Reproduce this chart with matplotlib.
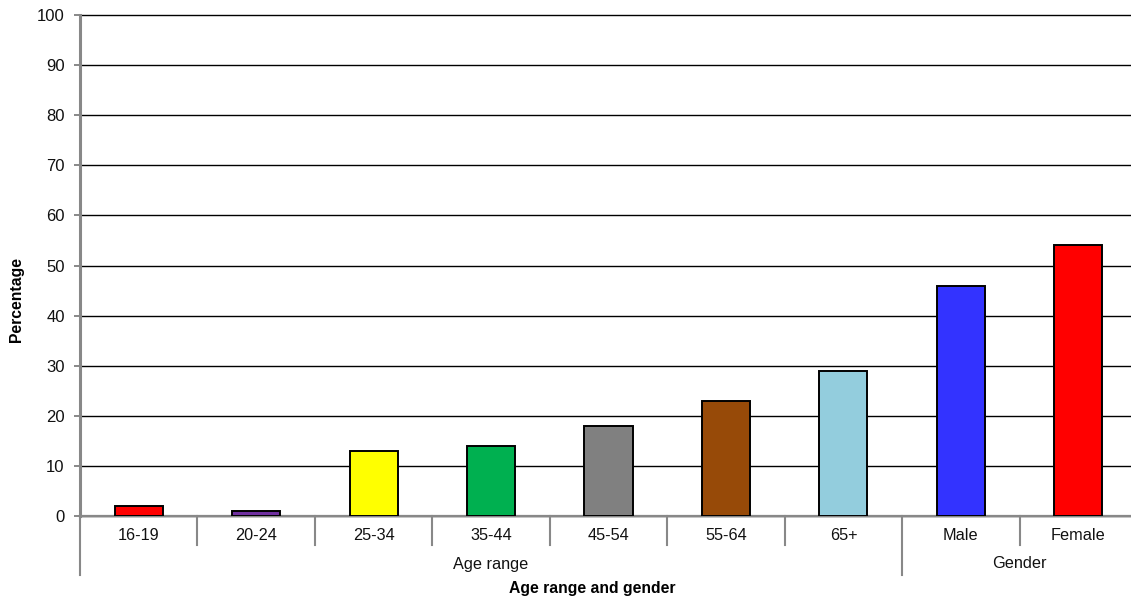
import numpy as np
import matplotlib.pyplot as plt
import matplotlib.transforms as mtransforms

plt.rcParams['font.family'] = ['Liberation Sans', 'DejaVu Sans']

# data
categories = ["16-19", "20-24", "25-34", "35-44", "45-54", "55-64", "65+", "Male", "Female"]
percentages = [2, 1, 13, 14, 18, 23, 29, 46, 54]
bar_colors = ["#FF0000", "#7030A0", "#FFFF00", "#00B050", "#808080",
              "#974A08", "#93CDDD", "#3333FF", "#FF0000"]
group_labels = ["Age range", "Gender"]
group_sizes = [7, 2]

W, H = 1131, 604
fig = plt.figure(figsize=(W / 100, H / 100), dpi=100)
# plot area in pixels: x 80..1137 (runs a bit past the right edge), y 15..516
ax = fig.add_axes([80 / W, (H - 516) / H, (1137 - 80) / W, (516 - 15) / H])

x = np.arange(len(categories))
ax.bar(x, percentages, width=0.41, color=bar_colors, edgecolor="black",
       linewidth=1.4, zorder=3)

ax.set_xlim(-0.5, len(categories) - 0.5)
ax.set_ylim(0, 100)
ax.set_yticks(np.arange(0, 101, 10))
ax.yaxis.grid(True, color="black", linewidth=1.0)
for gl in ax.yaxis.get_gridlines():
    gl.set_clip_on(False)
ax.set_axisbelow(True)

for side in ("top", "right"):
    ax.spines[side].set_visible(False)
ax.spines["left"].set_color("#888888")
ax.spines["left"].set_linewidth(2.2)
ax.spines["bottom"].set_color("#888888")
ax.spines["bottom"].set_linewidth(1.6)

ax.tick_params(axis="y", length=4, width=1.4, color="#888888",
               labelsize=12, pad=7, labelcolor="#111111")
ax.set_xticks([])

# y title sits a little below the axis middle in the original
fig.text(17 / W, 1 - 300 / H, "Percentage", rotation=90, ha="center",
         va="center", fontsize=11.3, fontweight="bold")

# hierarchical category axis underneath the plot
trans = mtransforms.blended_transform_factory(ax.transData, ax.transAxes)
px = 1.0 / 501  # one pixel in axes fraction (vertically)
sep_kw = dict(color="#888888", linewidth=1.5, transform=trans, clip_on=False)

for i, name in enumerate(categories):
    ax.text(i, -19 * px, name, transform=trans, ha="center", va="center",
            fontsize=11.7, color="#111111")

boundaries = np.cumsum([0] + group_sizes) - 0.5
for b in np.arange(-0.5, len(categories) + 0.5, 1.0):
    if b in boundaries:
        ax.plot([b, b], [0, -59 * px], **sep_kw)
    else:
        ax.plot([b, b], [0, -29 * px], **sep_kw)

for j, g in enumerate(group_labels):
    mid = (boundaries[j] + boundaries[j + 1]) / 2
    ax.text(mid, -48 * px, g, transform=trans, ha="center", va="center",
            fontsize=11.7, color="#111111")

fig.text(592 / W, 1 - 589 / H, "Age range and gender", ha="center",
         va="center", fontsize=11.3, fontweight="bold")

fig.savefig("out.png", dpi=100)
